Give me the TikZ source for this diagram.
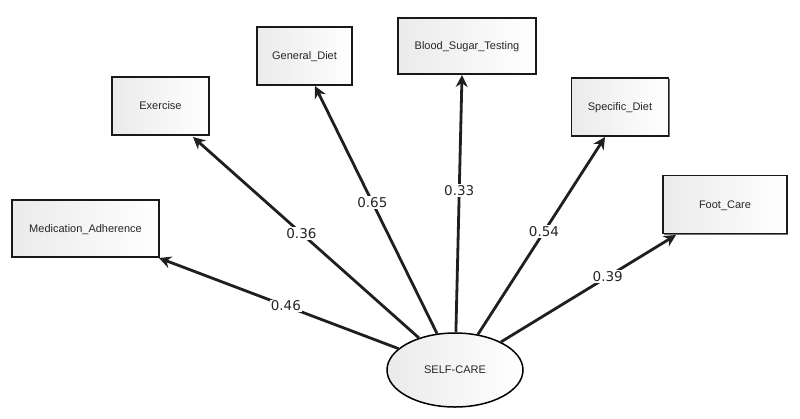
\documentclass[tikz,border=0pt]{standalone}
\usepackage{fontspec}
\setmainfont{Liberation Sans}
\newfontfamily\labfont{DejaVu Sans}
\usetikzlibrary{shapes.geometric,arrows.meta,calc,shadows}
\tikzset{
  varbox/.style={draw=black!90, line width=1.6pt, left color=black!8, right color=white,
    minimum width=#1, inner sep=0pt, font=\fontsize{11}{13}\selectfont, text=black!85,
    drop shadow={shadow xshift=1.2pt, shadow yshift=-1.2pt, opacity=0.7, fill=black!80}},
  latent/.style={ellipse, draw=black, line width=1.5pt, left color=black!8, right color=white,
    minimum width=136pt, minimum height=74pt, inner sep=0pt, font=\fontsize{11}{13}\selectfont, text=black!85},
  arr/.style={line width=2.8pt, draw=black!88, -{Stealth[length=12pt,width=12pt]}},
  coef/.style={fill=white, inner sep=1.2pt, font=\labfont\fontsize{13.5}{15}\selectfont, text=black!85}
}
\begin{document}
\begin{tikzpicture}[x=1pt,y=-1pt]
\useasboundingbox (0,0) rectangle (800,418);
\node[varbox=147pt, minimum height=57pt, text depth=-4pt] (ma) at (85.5,228.5) {Medication\_Adherence};
\node[varbox=97pt, minimum height=58pt, text depth=-4pt] (ex) at (160.5,106) {Exercise};
\node[varbox=95pt, minimum height=58pt, text depth=-4pt] (gd) at (304.5,56) {General\_Diet};
\node[varbox=138pt, minimum height=56pt, text depth=-4pt] (bs) at (467,46) {Blood\_Sugar\_Testing};
\node[varbox=97pt, minimum height=58pt, text depth=-4pt] (sd) at (620,107) {Specific\_Diet};
\node[varbox=124pt, minimum height=58pt, text depth=-4pt] (fc) at (725,204.5) {Foot\_Care};
\node[latent] (sc) at (455,370) {SELF-CARE};
\coordinate (tma) at (159,258);
\coordinate (tex) at (193,137);
\coordinate (tgd) at (315,86);
\coordinate (tbs) at (462,75);
\coordinate (tsd) at (605,137);
\coordinate (tfc) at (676,235);
\draw[arr] (sc) -- (tma) node[coef, pos=0.47] {0.46};
\draw[arr] (sc) -- (tex) node[coef, pos=0.52] {0.36};
\draw[arr] (sc) -- (tgd) node[coef, pos=0.53] {0.65};
\draw[arr] (sc) -- (tbs) node[coef, pos=0.55] {0.33};
\draw[arr] (sc) -- (tsd) node[coef, pos=0.52] {0.54};
\draw[arr] (sc) -- (tfc) node[coef, pos=0.61] {0.39};
\end{tikzpicture}
\end{document}
